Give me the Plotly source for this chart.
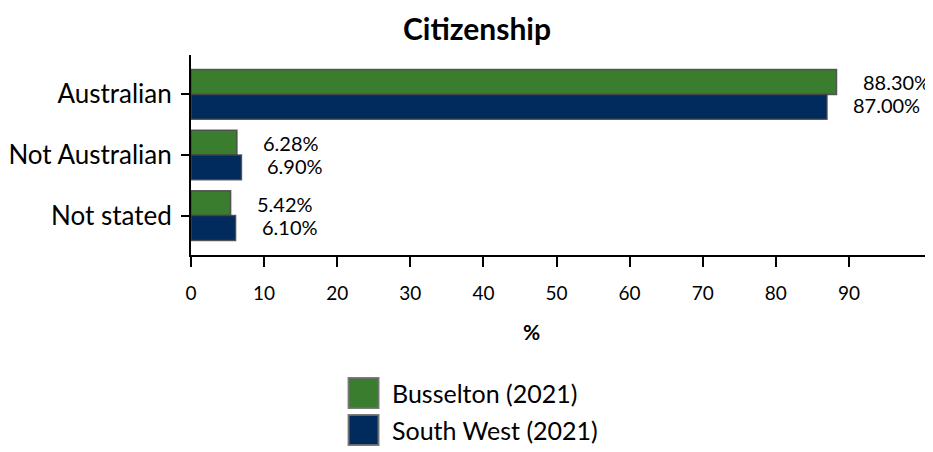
import plotly.graph_objects as go

categories = ["Australian", "Not Australian", "Not stated"]
series_names = ["Busselton (2021)", "South West (2021)"]
busselton = [88.30, 6.28, 5.42]
south_west = [87.00, 6.90, 6.10]
x_ticks = [0, 10, 20, 30, 40, 50, 60, 70, 80, 90]

colors = ["#3A7D2F", "#002B5C"]
FONT = "Lato"

fig = go.Figure()
for name, vals, col in zip(series_names, [busselton, south_west], colors):
    fig.add_trace(go.Bar(
        y=categories, x=vals, name=name, orientation="h",
        marker=dict(color=col, line=dict(color="rgba(70,70,70,0.85)", width=1.5)),
        showlegend=False,
    ))

OFF = 8  # page body margin
W, H = 933 - OFF, 452 - OFF
L, T = 189 - OFF, 55 - OFF
R = 0
ph = 200
B = H - T - ph
pw = W - L - R

def px2paper(px, py):
    px -= OFF
    py -= OFF
    return (px - L) / pw, (H - B - py) / ph

annotations = []
# data labels
for k, vals in enumerate([busselton, south_west]):
    for i, (c, v) in enumerate(zip(categories, vals)):
        annotations.append(dict(
            x=v, y=c, xref="x", yref="y", text=f"{v:.2f}%", showarrow=False,
            xanchor="left", xshift=24, yshift=(12 if k == 0 else -11),
            font=dict(family=FONT, size=20, color="#000"),
        ))

# title
tx, ty = px2paper(476, 28)
annotations.append(dict(x=tx, y=ty, xref="paper", yref="paper", text="<b>Citizenship</b>",
                        showarrow=False, xanchor="center", yanchor="middle",
                        font=dict(family=FONT, size=30, color="#000")))
# axis title
ax_, ay_ = px2paper(530, 331)
annotations.append(dict(x=ax_, y=ay_, xref="paper", yref="paper", text="<b>%</b>",
                        showarrow=False, xanchor="center", yanchor="middle",
                        font=dict(family=FONT, size=21, color="#000")))

shapes = []
# custom legend
for k, (name, col) in enumerate(zip(series_names, colors)):
    top = 378 + k * 37
    x0, y0 = px2paper(347, top + 30)
    x1, y1 = px2paper(377, top)
    shapes.append(dict(type="rect", xref="paper", yref="paper", x0=x0, y0=y0, x1=x1, y1=y1,
                       fillcolor=col, line=dict(color="rgba(110,110,110,0.9)", width=2)))
    lx, ly = px2paper(389, top + 15)
    annotations.append(dict(x=lx, y=ly, xref="paper", yref="paper", text=name,
                            showarrow=False, xanchor="left", yanchor="middle",
                            font=dict(family=FONT, size=25, color="#000")))

fig.update_layout(
    width=W, height=H,
    margin=dict(l=L, r=R, t=T, b=B, pad=0),
    paper_bgcolor="white", plot_bgcolor="white",
    barmode="group", bargap=0.18, bargroupgap=0,
    font=dict(family=FONT, color="#000"),
    annotations=annotations, shapes=shapes,
    showlegend=False,
)
fig.update_xaxes(range=[0, 101.5], tickvals=x_ticks, ticks="outside", ticklen=10, tickwidth=2,
                 tickcolor="#000", showline=True, linecolor="#000", linewidth=2,
                 showgrid=False, zeroline=False, tickfont=dict(family=FONT, size=19),
                 ticklabelstandoff=10)
fig.update_yaxes(range=[2.65, -0.65], ticks="outside", ticklen=8, tickwidth=2,
                 tickcolor="#000", showline=True, linecolor="#000", linewidth=2,
                 showgrid=False, tickfont=dict(family=FONT, size=26), ticklabelstandoff=4)

fig.write_html("out.html")
